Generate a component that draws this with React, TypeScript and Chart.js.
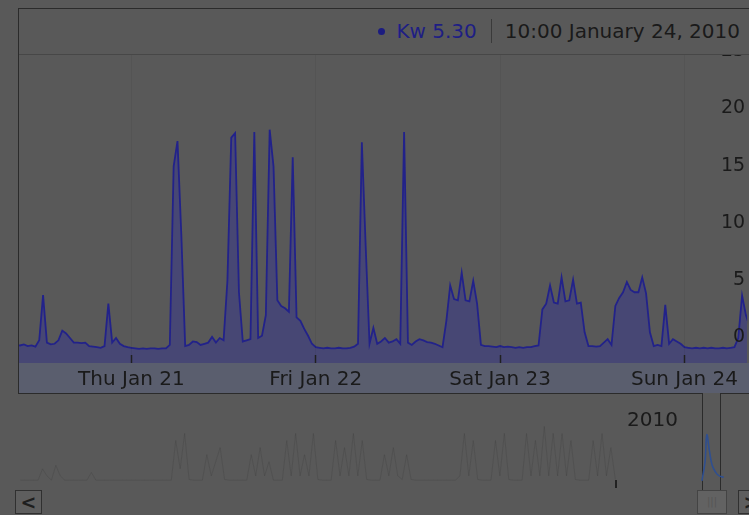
import React, { useEffect, useRef } from 'react';
import { Chart, registerables } from 'chart.js';

Chart.register(...registerables);

// ---- data ----
// half-hourly readings, first reading at 09:00 Jan 20 2010 (hours relative to Jan 21 00:00)
const startHour = -15;
const stepHours = 0.5;
const kw = [
  0.4, 0.35, 0.45, 0.3, 0.35, 0.25, 0.8, 4.75, 0.6, 0.45,
  0.5, 0.8, 1.65, 1.4, 1.0, 0.6, 0.6, 0.55, 0.6, 0.3,
  0.25, 0.2, 0.15, 0.3, 4.0, 0.6, 1.0, 0.5, 0.3, 0.2,
  0.15, 0.1, 0.05, 0.1, 0.05, 0.1, 0.1, 0.05, 0.1, 0.1,
  0.4, 16.0, 18.2, 10.0, 0.3, 0.4, 0.7, 0.65, 0.4, 0.5,
  0.6, 1.1, 0.6, 1.0, 0.8, 6.0, 18.5, 18.9, 5.0, 0.7,
  0.8, 0.9, 19.0, 1.0, 1.2, 3.0, 19.2, 16.0, 4.3, 3.8,
  3.6, 3.3, 16.8, 2.8, 2.5, 1.8, 1.2, 0.5, 0.2, 0.15,
  0.1, 0.15, 0.1, 0.1, 0.15, 0.1, 0.1, 0.15, 0.25, 0.5,
  18.1, 9.0, 0.5, 1.9, 0.5, 0.7, 1.0, 0.6, 0.7, 0.9,
  0.5, 19.0, 0.6, 0.4, 0.7, 0.9, 0.8, 0.65, 0.6, 0.5,
  0.35, 0.2, 2.5, 5.6, 4.4, 4.3, 6.7, 4.3, 4.2, 6.0,
  4.0, 0.4, 0.3, 0.3, 0.25, 0.2, 0.3, 0.2, 0.25, 0.2,
  0.15, 0.2, 0.15, 0.2, 0.2, 0.3, 0.35, 3.5, 4.0, 5.6,
  4.1, 4.0, 6.3, 4.2, 4.3, 6.1, 4.0, 4.1, 1.5, 0.3,
  0.3, 0.25, 0.3, 0.6, 0.9, 0.4, 3.8, 4.5, 5.0, 5.9,
  5.2, 5.0, 5.0, 6.3, 4.9, 1.5, 0.3, 0.4, 0.3, 3.9,
  0.5, 0.9, 0.7, 0.5, 0.2, 0.15, 0.1, 0.15, 0.1, 0.15,
  0.1, 0.15, 0.1, 0.1, 0.15, 0.1, 0.15, 0.2, 1.0, 4.7,
  3.0, 2.0, 3.5, 4.5, 5.3,
];
const dayTicks = [0, 24, 48, 72];
const dayLabels = ['Thu Jan 21', 'Fri Jan 22', 'Sat Jan 23', 'Sun Jan 24'];
const yTicks = [0, 5, 10, 15, 20, 25];
const seriesName = 'Kw';
const lastValue = '5.30';
const lastDate = '10:00 January 24, 2010';

// range selector overview: daily values from day -134 to day 0 (days relative to Jan 1 2010)
const histStartDay = -134;
const histKw = [
  0.4, 0.4, 0.4, 0.4, 0.4, 2, 1, 0.4, 2.5, 1,
  0.4, 0.4, 0.4, 0.4, 0.4, 0.4, 1.5, 0.4, 0.4, 0.4,
  0.4, 0.4, 0.4, 0.4, 0.4, 0.4, 0.4, 0.4, 0.4, 0.4,
  0.4, 0.4, 0.4, 0.4, 0.4, 6, 2, 7, 0.5, 0.4,
  0.4, 0.4, 4, 1, 3, 5, 0.5, 0.4, 0.4, 0.4,
  0.4, 0.4, 4, 1, 5, 1, 3, 0.4, 0.4, 0.4,
  6, 1, 7, 1, 4, 1, 7, 0.5, 0.4, 0.4,
  0.4, 6, 1, 5, 1, 7, 1, 6, 0.5, 0.4,
  0.4, 0.4, 4, 1, 5, 1, 0.5, 4, 0.5, 0.4,
  0.4, 0.4, 0.4, 0.4, 0.4, 0.4, 0.4, 0.4, 0.4, 1,
  7, 1, 6, 0.5, 0.4, 0.4, 0.4, 6, 1, 7,
  0.5, 0.4, 0.4, 0.4, 7, 1, 6, 1, 8, 1,
  7, 1, 7, 1, 6, 0.5, 0.4, 0.4, 0.4, 6,
  1, 7, 1, 5, 0.5,
];
// selected window (days relative to Jan 1 2010)
const windowDays = [19.5, 20.2, 20.6, 21.2, 21.8, 22.6, 23.4, 24.4];
const windowKw = [0.3, 3.0, 6.8, 4.5, 2.5, 1.5, 1.0, 0.8];
const yearLabel = '2010';

// ---- styles ----
const BG = '#595959';
const LINE = '#22228a';
const FILL = '#474774';
const BAND = '#5a5e6e';
const TEXT = '#1a1a1a';
const FRAME = '#2b2b2b';
const FONT = "'DejaVu Sans', Verdana, sans-serif";

export default function App() {
  const mainRef = useRef<HTMLCanvasElement>(null);
  const miniRef = useRef<HTMLCanvasElement>(null);

  useEffect(() => {
    const points = kw.map((v, i) => ({ x: startHour + i * stepHours, y: v }));
    const bandPlugin = {
      id: 'band',
      beforeDraw(chart: any) {
        const { ctx, chartArea, height, width } = chart;
        ctx.save();
        ctx.fillStyle = BAND;
        ctx.fillRect(0, chartArea.bottom, width, height - chartArea.bottom);
        ctx.restore();
      },
    };
    const main = new Chart(mainRef.current!, {
      type: 'line',
      data: {
        datasets: [
          {
            data: points,
            borderColor: LINE,
            borderWidth: 1.8,
            backgroundColor: FILL,
            fill: 'start',
            pointRadius: 0,
            tension: 0,
          },
        ],
      },
      options: {
        animation: false,
        responsive: false,
        maintainAspectRatio: false,
        layout: { padding: { top: 12, left: 0, right: 0, bottom: 0 } },
        plugins: { legend: { display: false }, tooltip: { enabled: false } },
        scales: {
          x: {
            type: 'linear',
            position: 'bottom',
            min: -14.633,
            max: 80.16,
            afterBuildTicks: (a: any) => {
              a.ticks = dayTicks.map((v) => ({ value: v }));
            },
            afterFit: (a: any) => {
              a.height = 30;
            },
            grid: {
              color: 'rgba(0,0,0,0.05)',
              drawTicks: true,
              tickLength: -8,
              tickColor: '#202020',
              tickWidth: 1.5,
              z: 1,
            },
            border: { display: false },
            ticks: {
              padding: 13,
              color: TEXT,
              maxRotation: 0,
              autoSkip: false,
              font: { family: FONT, size: 20 },
              callback: (v: any) => {
                const k = dayTicks.indexOf(Number(v));
                return k >= 0 ? dayLabels[k] : '';
              },
            },
          },
          y: {
            position: 'right',
            min: -1.18,
            max: 25.81,
            afterBuildTicks: (a: any) => {
              a.ticks = yTicks.map((v) => ({ value: v }));
            },
            grid: { display: false, drawTicks: false, tickLength: 0 },
            border: { display: false },
            ticks: {
              mirror: true,
              padding: -2,
              labelOffset: -12,
              color: TEXT,
              z: 1,
              font: { family: FONT, size: 19 },
            },
          },
        },
      },
      plugins: [bandPlugin],
    });

    const mini = new Chart(miniRef.current!, {
      type: 'line',
      data: {
        datasets: [
          {
            data: histKw.map((v, i) => ({ x: histStartDay + i, y: v })),
            borderColor: 'rgba(30,30,30,0.13)',
            borderWidth: 1,
            pointRadius: 0,
            fill: false,
            tension: 0,
          },
          {
            data: windowDays.map((d, i) => ({ x: d, y: windowKw[i] })),
            borderColor: '#2f4f90',
            borderWidth: 1.6,
            pointRadius: 0,
            fill: false,
            tension: 0.4,
          },
        ],
      },
      options: {
        animation: false,
        responsive: false,
        maintainAspectRatio: false,
        layout: { padding: 0 },
        plugins: { legend: { display: false }, tooltip: { enabled: false } },
        scales: {
          x: { type: 'linear', min: -134.3, max: 30.1, display: false },
          y: { min: 0, max: 12, display: false },
        },
      },
    });

    return () => {
      main.destroy();
      mini.destroy();
    };
  }, []);

  const line = (l: number, t: number, w: number, h: number, c = FRAME) => (
    <div style={{ position: 'absolute', left: l, top: t, width: w, height: h, background: c }} />
  );

  const btn = (l: number, glyph: string) => (
    <div
      style={{
        position: 'absolute',
        left: l,
        top: 490,
        width: 25,
        height: 22,
        border: '1px solid #303030',
        background: '#5e5e5e',
        fontSize: 19,
        lineHeight: '22px',
        textAlign: 'center',
        color: '#1e1e1e',
        fontWeight: 'bold',
      }}
    >
      {glyph}
    </div>
  );

  return (
    <div
      style={{
        position: 'fixed',
        left: 0,
        top: 0,
        width: 749,
        height: 515,
        overflow: 'hidden',
        background: BG,
        fontFamily: FONT,
      }}
    >
      <canvas
        ref={mainRef}
        width={732}
        height={351}
        style={{ position: 'absolute', left: 19, top: 42, width: 732, height: 351 }}
      />
      {/* legend strip */}
      <div
        style={{
          position: 'absolute',
          left: 19,
          top: 9,
          width: 760,
          height: 45,
          background: BG,
          borderBottom: '1px solid #474747',
        }}
      />
      <div
        style={{
          position: 'absolute',
          right: 9,
          top: 9,
          height: 44,
          display: 'flex',
          alignItems: 'center',
          fontSize: 20,
          whiteSpace: 'nowrap',
          color: TEXT,
        }}
      >
        <span
          style={{
            display: 'inline-block',
            width: 7,
            height: 7,
            borderRadius: 4,
            background: '#1c1c80',
            marginRight: 11,
          }}
        />
        <span style={{ color: '#1e1e84' }}>{seriesName} {lastValue}</span>
        <span style={{ display: 'inline-block', width: 1, height: 24, background: '#3a3a3a', margin: '0 13px 0 14px' }} />
        <span>{lastDate}</span>
      </div>
      {/* frame */}
      {line(18, 8, 740, 1)}
      {line(18, 8, 1, 386)}
      {line(18, 393, 685, 1)}
      {line(720, 393, 40, 1)}
      {line(702, 393, 1, 97)}
      {line(720, 393, 1, 97)}
      {/* range selector */}
      <canvas
        ref={miniRef}
        width={730}
        height={85}
        style={{ position: 'absolute', left: 19, top: 398, width: 730, height: 85 }}
      />
      <div style={{ position: 'absolute', left: 627, top: 407, fontSize: 20, color: TEXT }}>{yearLabel}</div>
      {line(615, 480, 1.5, 8, '#222')}
      {/* buttons */}
      {btn(15, '<')}
      <div
        style={{
          position: 'absolute',
          left: 697,
          top: 490,
          width: 28,
          height: 22,
          border: '1px solid #444',
          background: '#626262',
          fontSize: 10,
          lineHeight: '22px',
          textAlign: 'center',
          color: '#555',
        }}
      >
        |||
      </div>
      {btn(738, '>')}
    </div>
  );
}
